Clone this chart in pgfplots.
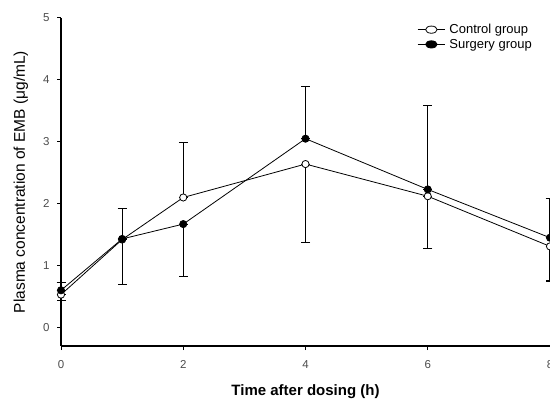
\documentclass[border=0pt]{standalone}
\usepackage{pgfplots}
\pgfplotsset{compat=1.18}
\usepackage{pgfplotstable}
\usepackage{fontspec}
\setmainfont{Liberation Sans}

% time (h), mean, upper error, lower error
\pgfplotstableread{
t  y     ep    em
0  0.53  0     0.10
1  1.42  0     0.73
2  2.10  0.89  0
4  2.64  0     1.27
6  2.12  0     0.85
8  1.31  0     0.56
}\control
\pgfplotstableread{
t  y     ep    em
0  0.60  0.12  0
1  1.43  0.49  0
2  1.67  0     0.85
4  3.05  0.84  0
6  2.23  1.36  0
8  1.45  0.63  0
}\surgery

\begin{document}
\begin{tikzpicture}
\begin{axis}[
    scale only axis,
    width=489pt, height=328pt,
    xmin=0, xmax=8, ymin=-0.3, ymax=5,
    axis lines=left,
    axis line style={line width=1.3pt, -},
    xtick={0,2,4,6,8},
    ytick={0,1,2,3,4,5},
    tick align=outside,
    major tick length=4pt,
    tick style={line width=1pt, black},
    ticklabel style={font=\fontsize{11.5}{12}\selectfont, text=black!70},
    yticklabel style={xshift=-4pt},
    xticklabel style={yshift=-7pt},
    /pgf/number format/assume math mode=true,
    xlabel={\textbf{Time after dosing (h)}},
    ylabel={Plasma concentration of EMB (μg/mL)},
    xlabel style={font=\fontsize{15}{16}\selectfont, yshift=-9pt},
    ylabel style={font=\fontsize{15.5}{16}\selectfont, yshift=8pt},
    legend style={draw=none, fill=none, at={(rel axis cs:1,1)}, anchor=north east,
        xshift=-14pt, yshift=-5pt, font=\fontsize{13}{14}\selectfont,
        row sep=2pt, inner sep=0pt, nodes={inner xsep=4pt, inner ysep=1pt},
        cells={anchor=west}},
    legend image post style={xscale=1.6},
    legend cell align=left,
    clip=false,
    error bars/y dir=both, error bars/y explicit,
    error bars/error bar style={line width=1.1pt, black},
    error bars/error mark options={rotate=90, mark size=4.5pt, line width=1.1pt, black},
]
\addplot[black, line width=0.8pt, mark=*, mark size=3.6pt,
    mark options={fill=white, draw=black, line width=0.8pt}]
    table[x=t, y=y, y error plus=ep, y error minus=em] {\control};
\addlegendentry{Control group}
\addplot[black, line width=0.8pt, mark=*, mark size=3.6pt,
    mark options={fill=black, draw=black}]
    table[x=t, y=y, y error plus=ep, y error minus=em] {\surgery};
\addlegendentry{Surgery group}
\coordinate (sw) at (rel axis cs:0,0);
\coordinate (ne) at (rel axis cs:1,1);
\end{axis}
\pgfresetboundingbox
\path ([shift={(-61pt,-57pt)}]sw) rectangle ([shift={(0pt,18pt)}]ne);
\end{tikzpicture}
\end{document}
